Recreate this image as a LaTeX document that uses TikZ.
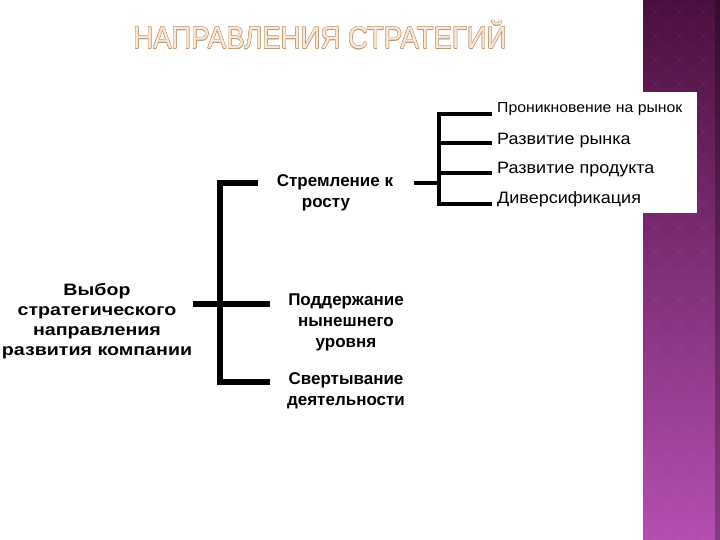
\documentclass[tikz,border=0pt]{standalone}
\usepackage{fontspec}
\setmainfont{Liberation Sans}
\newfontfamily\widesans{Liberation Sans}[FakeStretch=1.19]
\newfontfamily\leafsans{Liberation Sans}[FakeStretch=1.09]
\usepackage{xcolor}
\usepackage{contour}
\usepackage{tikz}
\usetikzlibrary{positioning}

\definecolor{plumtop}{HTML}{4A0F3E}
\definecolor{plumbot}{HTML}{B44EB0}
\definecolor{peach}{HTML}{FAE6D2}
\definecolor{peachline}{HTML}{C29A74}
\contourlength{0.4pt}

\begin{document}
\begin{tikzpicture}[
  x=1pt, y=-1pt,
  bigbar/.style={line width=6pt},
  smallbar/.style={line width=3.5pt},
  root/.style={font=\widesans\bfseries\fontsize{16.5}{20}\selectfont, align=center, inner sep=0pt},
  branch/.style={font=\bfseries\fontsize{17}{21}\selectfont, align=center, inner sep=0pt},
  leaf/.style={font=\leafsans\fontsize{16.5}{20}\selectfont, inner sep=0pt},
]
\useasboundingbox (0,0) rectangle (720,540);
\fill[white] (0,0) rectangle (720,540);

% Side strip
\shade[top color=plumtop, bottom color=plumbot] (643,0) rectangle (720,540);
\begin{scope}
  \clip (643,0) rectangle (715,540);
  \foreach \i in {-28,...,4}
    \draw[white, opacity=0.03, line width=1pt] (643+\i*24,0) -- ++(560,560);
  \foreach \i in {0,...,30}
    \draw[white, opacity=0.03, line width=1pt] (643+\i*24,0) -- ++(-560,560);
\end{scope}
\fill[black, opacity=0.25] (715,0) rectangle (720,540);
\fill[white] (600,92) rectangle (697,213);

% Title
\node (title) at (320,35) {\fontsize{31}{31}\selectfont\scalebox{0.89}[1]{\contour{peachline}{\textcolor{peach}{НАПРАВЛЕНИЯ СТРАТЕГИЙ}}}};

% Labels
\node[root] (choice) at (97,321) {Выбор\\стратегического\\направления\\развития компании};
\node[branch] (grow) at (335,193) {Стремление к\\росту\hspace*{18pt}};
\node[branch] (keep) at (346,322) {Поддержание\\нынешнего\\уровня};
\node[branch] (shrink) at (346,391) {Свертывание\\деятельности};

% Main bracket
\coordinate (bx) at (220,0);
\coordinate (b1) at (258,183);
\coordinate (b2) at (270,304);
\coordinate (b3) at (270,382);
\coordinate (bin) at (193,304);
\draw[bigbar] (b1) -| (bx |- b3) -- (b3);
\draw[bigbar] (bin) -- (b2);

% Growth bracket
\coordinate (sx) at (439,0);
\coordinate (s0) at (414,183);
\coordinate (e1) at (492,114);
\coordinate (e2) at (492,143);
\coordinate (e3) at (492,173);
\coordinate (e4) at (492,204);
\draw[smallbar] (e1) -| (sx |- e4) -- (e4);
\draw[smallbar] (sx |- e2) -- (e2);
\draw[smallbar] (sx |- e3) -- (e3);
\draw[smallbar] (s0) -- (sx |- s0);

\node[leaf, right=5pt of e1, yshift=5pt, font=\leafsans\fontsize{14.5}{16}\selectfont] (p1) {Проникновение на рынок};
\node[leaf, right=5pt of e2, yshift=2pt] (p2) {Развитие рынка};
\node[leaf, right=5pt of e3, yshift=3pt] (p3) {Развитие продукта};
\node[leaf, right=5pt of e4, yshift=5pt] (p4) {Диверсификация};

\end{tikzpicture}
\end{document}
